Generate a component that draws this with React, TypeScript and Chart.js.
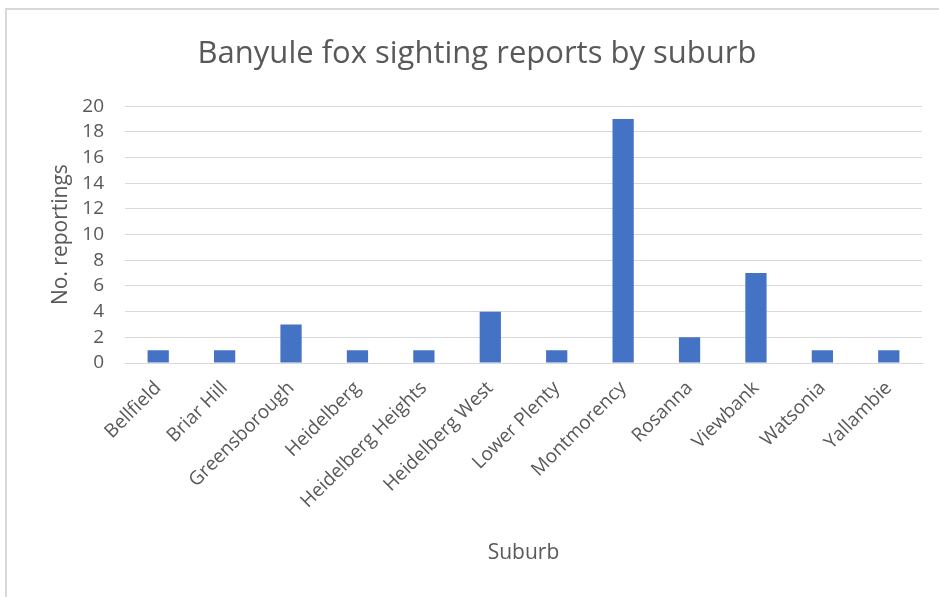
import React, { useEffect, useRef } from "react";
import { Chart, registerables } from "chart.js";

Chart.register(...registerables);

const suburbs = [
  "Bellfield",
  "Briar Hill",
  "Greensborough",
  "Heidelberg",
  "Heidelberg Heights",
  "Heidelberg West",
  "Lower Plenty",
  "Montmorency",
  "Rosanna",
  "Viewbank",
  "Watsonia",
  "Yallambie",
];
const reports = [1, 1, 3, 1, 1, 4, 1, 19, 2, 7, 1, 1];
const yMin = 0;
const yMax = 20;
const yStep = 2;

const chartTitle = "Banyule fox sighting reports by suburb";
const xTitle = "Suburb";
const yTitle = "No. reportings";

const FONT = "'Open Sans', sans-serif";
const TEXT = "#595959";
const GRID = "#d9d9d9";
const BAR = "#4472c4";

export default function App() {
  const ref = useRef<HTMLCanvasElement | null>(null);

  useEffect(() => {
    if (!ref.current) return;
    const chart = new Chart(ref.current, {
      type: "bar",
      data: {
        labels: suburbs,
        datasets: [
          {
            label: yTitle,
            data: reports,
            backgroundColor: BAR,
            borderWidth: 0,
            categoryPercentage: 1,
            barPercentage: 0.32,
          },
        ],
      },
      options: {
        responsive: false,
        animation: false,
        layout: { padding: { top: 0, left: 32, right: 17, bottom: 0 } },
        plugins: {
          legend: { display: false },
          tooltip: { enabled: false },
          title: {
            display: true,
            text: chartTitle,
            color: TEXT,
            font: { family: FONT, size: 31, weight: "normal" },
            padding: { top: 36, bottom: 33 },
          },
        },
        scales: {
          x: {
            grid: { display: false, drawTicks: false },
            border: { display: true, color: GRID, width: 1 },
            ticks: {
              color: TEXT,
              font: { family: FONT, size: 19 },
              minRotation: 45,
              maxRotation: 45,
              padding: 14,
              autoSkip: false,
            },
            title: {
              display: true,
              text: xTitle,
              color: TEXT,
              font: { family: FONT, size: 21 },
              padding: { top: 4, bottom: 31 },
            },
            afterFit: (scale: any) => {
              scale.height = 234;
            },
          },
          y: {
            min: yMin,
            max: yMax,
            grid: { color: GRID, lineWidth: 1, drawTicks: false },
            border: { display: false },
            ticks: {
              stepSize: yStep,
              color: TEXT,
              font: { family: FONT, size: 19 },
              padding: 21,
              autoSkip: false,
            },
            title: {
              display: true,
              text: yTitle,
              color: TEXT,
              font: { family: FONT, size: 21 },
              padding: { top: 16, bottom: 0 },
            },
            afterFit: (scale: any) => {
              scale.width = 93;
            },
          },
        },
      },
    });
    return () => chart.destroy();
  }, []);

  return (
    <div
      style={{
        position: "fixed",
        left: 0,
        top: 0,
        width: 939,
        height: 597,
        overflow: "hidden",
        background: "#fff",
      }}
    >
      <div
        style={{
          position: "absolute",
          left: 5,
          top: 8,
          width: 1200,
          height: 1200,
          borderLeft: "2px solid #d9d9d9",
          borderTop: "2px solid #d9d9d9",
        }}
      />
      <canvas
        ref={ref}
        width={939}
        height={597}
        style={{ position: "absolute", left: 0, top: 0, width: 939, height: 597 }}
      />
    </div>
  );
}
